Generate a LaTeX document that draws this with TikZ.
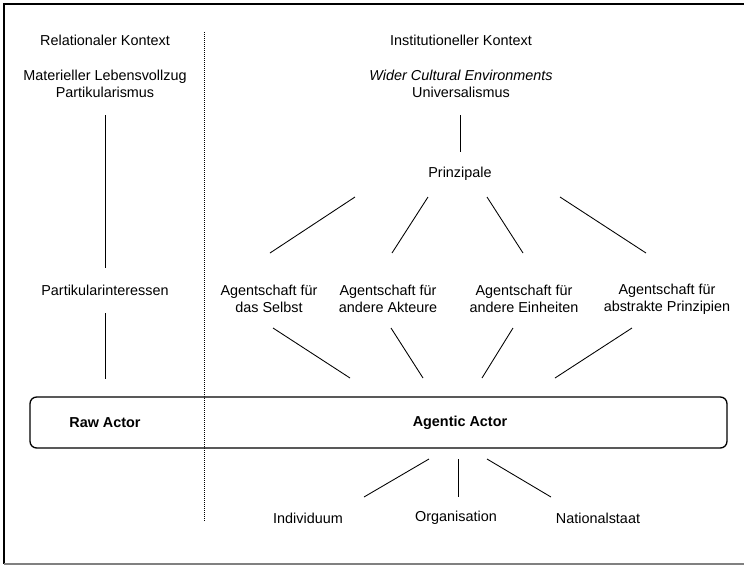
\documentclass[tikz,border=0pt]{standalone}
\usepackage{fontspec}
\setmainfont{Liberation Sans}
\usetikzlibrary{positioning}

\begin{document}
\begin{tikzpicture}[x=0.75pt,y=-0.75pt,
    every node/.style={font=\fontsize{10.8}{12.6}\selectfont,align=center,inner sep=0pt},
    link/.style={line width=0.65pt},
    actorbox/.style={draw,line width=1pt,rounded corners=5pt,minimum width=522.75pt,minimum height=38.25pt}]
    \useasboundingbox (0,0) rectangle (744,565);
    \clip (0,0) rectangle (744,565);
    % Rahmen, rechts offen
    \draw[line width=1pt] (750,4) -- (4,4) -- (4,564);
    \draw[line width=0.8pt,gray] (4,564) -- (750,564);

    % Trennlinie
    \coordinate (sep-top) at (204,32);
    \coordinate (sep-bot) at (204,522);
    \draw[line width=0.6pt,dash pattern=on 0.75pt off 0.75pt] (sep-top) -- (sep-bot);

    % Relationaler Kontext
    \node (relk) at (105,40) {Relationaler Kontext};
    \node (matl) at (105,84) {Materieller Lebensvollzug\\Partikularismus};
    \node (partint) at (105,290) {Partikularinteressen};

    % Institutioneller Kontext
    \node (instk) at (461,40) {Institutioneller Kontext};
    \node (wider) at (461,84) {\textit{Wider Cultural Environments}\\Universalismus};
    \node (prinz) at (460,174) {Prinzipale};
    \node (as1) at (269,299) {Agentschaft für\\das Selbst};
    \node (as2) at (388,299) {Agentschaft für\\andere Akteure};
    \node (as3) at (524,299) {Agentschaft für\\andere Einheiten};
    \node (as4) at (667,299) {Agentschaft für\\abstrakte Prinzipien};

    % Akteur
    \node[actorbox] (box) at (378.5,422.5) {};
    \node[font=\fontsize{10.8}{12.6}\selectfont\bfseries] (raw) at (105,423) {Raw Actor};
    \node[font=\fontsize{10.8}{12.6}\selectfont\bfseries] (agentic) at (460,423) {Agentic Actor};
    \node (indiv) at (308,518) {Individuum};
    \node (orga) at (456,518) {Organisation};
    \node (nat) at (598,518) {Nationalstaat};

    % Enden der Verbindungen
    \coordinate (matl-part) at (105,115);  \coordinate (part-matl) at (105,268);
    \coordinate (part-raw) at (105,313);   \coordinate (raw-part) at (105,379);
    \coordinate (wider-pr) at (460,115);   \coordinate (pr-wider) at (460,152);
    \coordinate (pr-as1) at (355,197);     \coordinate (as1-pr) at (270,253);
    \coordinate (pr-as2) at (428,197);     \coordinate (as2-pr) at (392,253);
    \coordinate (pr-as3) at (487,197);     \coordinate (as3-pr) at (523,253);
    \coordinate (pr-as4) at (560,197);     \coordinate (as4-pr) at (646,253);
    \coordinate (as1-ag) at (273,328);     \coordinate (ag-as1) at (350,378);
    \coordinate (as2-ag) at (391,328);     \coordinate (ag-as2) at (423,378);
    \coordinate (as3-ag) at (513,328);     \coordinate (ag-as3) at (482,378);
    \coordinate (as4-ag) at (632,328);     \coordinate (ag-as4) at (555,378);
    \coordinate (ag-indiv) at (429,459);   \coordinate (indiv-ag) at (364,497);
    \coordinate (ag-orga) at (458,459);    \coordinate (orga-ag) at (458,497);
    \coordinate (ag-nat) at (487,459);     \coordinate (nat-ag) at (551,497);

    \path[link]
        (matl-part) edge (part-matl)
        (part-raw) edge (raw-part)
        (wider-pr) edge (pr-wider)
        (pr-as1) edge (as1-pr)
        (pr-as2) edge (as2-pr)
        (pr-as3) edge (as3-pr)
        (pr-as4) edge (as4-pr)
        (as1-ag) edge (ag-as1)
        (as2-ag) edge (ag-as2)
        (as3-ag) edge (ag-as3)
        (as4-ag) edge (ag-as4)
        (ag-indiv) edge (indiv-ag)
        (ag-orga) edge (orga-ag)
        (ag-nat) edge (nat-ag);
\end{tikzpicture}
\end{document}
